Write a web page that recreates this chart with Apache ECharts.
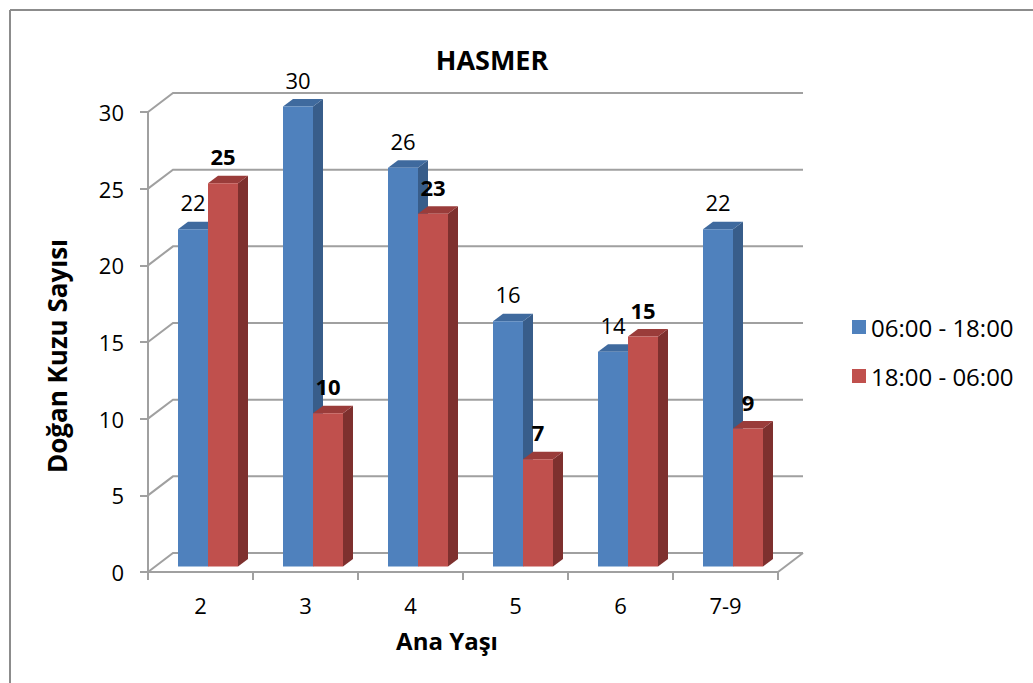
<!DOCTYPE html>
<html>
<head>
<meta charset="utf-8">
<script src="https://cdn.jsdelivr.net/npm/echarts@6/dist/echarts.min.js"></script>
<style>html,body{margin:0;padding:0;background:#fff}#c{width:1033px;height:683px}</style>
</head>
<body>
<div id="c"></div>
<script>
const categories = ['2', '3', '4', '5', '6', '7-9'];
const dayValues = [22, 30, 26, 16, 14, 22];
const nightValues = [25, 10, 23, 7, 15, 9];
const seriesNames = ['06:00 - 18:00', '18:00 - 06:00'];
const yTicks = [0, 5, 10, 15, 20, 25, 30];

const FONT = '"Open Sans", "Noto Sans", sans-serif';
const GRID_COL = '#a0a0a0';
const WALL_DX = 25, WALL_DY = 19;   // back wall depth offset
const BAR_DX = 10, BAR_DY = 7.5;     // bar depth offset
const faces = [
  { front: '#4F81BD', side: '#385D8A', top: '#3F6A9E' },
  { front: '#C0504D', side: '#7E302E', top: '#9A3C3A' }
];

function wallItem(params, api) {
  const cs = params.coordSys;
  const v = api.value(0);
  const y = api.coord([0, v])[1];
  const x0 = cs.x, x1 = cs.x + cs.width;
  const children = [{
    type: 'polyline',
    shape: { points: [[x0, y], [x0 + WALL_DX, y - WALL_DY], [x1 + WALL_DX, y - WALL_DY]] },
    style: { stroke: GRID_COL, lineWidth: 2, fill: null }
  }];
  if (v === 0) {
    children.push({
      type: 'line',
      shape: { x1: x1, y1: y, x2: x1 + WALL_DX, y2: y - WALL_DY },
      style: { stroke: GRID_COL, lineWidth: 2 }
    });
  }
  return { type: 'group', children: children };
}

function barRenderer(sIdx, bold) {
  return function (params, api) {
    const idx = api.value(0), val = api.value(1);
    const base = api.coord([idx, 0]);
    const top = api.coord([idx, val]);
    const band = api.size([1, 0])[0];
    const bw = band * 30 / 105;
    const x = sIdx === 0 ? base[0] - bw : base[0];
    const y1 = top[1], y0 = base[1];
    const f = faces[sIdx];
    return {
      type: 'group',
      children: [
        { type: 'polygon', shape: { points: [[x + bw, y1], [x + bw + BAR_DX, y1 - BAR_DY], [x + bw + BAR_DX, y0 - BAR_DY], [x + bw, y0]] }, style: { fill: f.side } },
        { type: 'polygon', shape: { points: [[x, y1], [x + BAR_DX, y1 - BAR_DY], [x + bw + BAR_DX, y1 - BAR_DY], [x + bw, y1]] }, style: { fill: f.top } },
        { type: 'rect', shape: { x: x, y: y1, width: bw, height: y0 - y1 }, style: { fill: f.front } },
        { type: 'text', x: x + bw / 2, y: y1 - 27, style: { text: String(val), fill: '#000', font: (bold ? 'bold ' : '') + '22px ' + FONT, align: 'center', verticalAlign: 'middle' } }
      ]
    };
  };
}

const chart = echarts.init(document.getElementById('c'), null, { renderer: 'svg' });
chart.setOption({
  animation: false,
  backgroundColor: '#fff',
  color: [faces[0].front, faces[1].front],
  title: {
    text: 'HASMER', left: 487, top: 41, textAlign: 'center',
    textStyle: { fontFamily: FONT, fontWeight: 'bold', fontSize: 27, color: '#000' }
  },
  legend: {
    orient: 'vertical', left: 847, top: 310,
    icon: 'rect', itemWidth: 14, itemHeight: 14, itemGap: 25,
    data: seriesNames,
    textStyle: { fontFamily: FONT, fontSize: 24, color: '#000', lineHeight: 24 }
  },
  graphic: [
    { type: 'line', shape: { x1: 10, y1: 10, x2: 10, y2: 683 }, style: { stroke: '#8c8c8c', lineWidth: 2 } },
    { type: 'line', shape: { x1: 10, y1: 10, x2: 1033, y2: 10 }, style: { stroke: '#8c8c8c', lineWidth: 2 } }
  ],
  grid: [
    { left: 148, right: 255, top: 112, bottom: 111 },
    { left: 155.5, right: 247.5, top: 106.5, bottom: 116.5 }
  ],
  xAxis: [
    {
      gridIndex: 0, type: 'category', data: categories, boundaryGap: true,
      axisLine: { lineStyle: { color: GRID_COL, width: 2 } },
      axisTick: { show: true, length: 8, alignWithLabel: false, lineStyle: { color: GRID_COL, width: 2 } },
      axisLabel: { fontFamily: FONT, fontSize: 22, color: '#000', margin: 22 },
      name: 'Ana Yaşı', nameLocation: 'middle', nameGap: 56,
      nameTextStyle: { fontFamily: FONT, fontWeight: 'bold', fontSize: 24, color: '#000', padding: [0, 32, 0, 0] }
    },
    { gridIndex: 1, type: 'category', data: categories, show: false }
  ],
  yAxis: [
    {
      gridIndex: 0, type: 'value', min: 0, max: 30, interval: 5,
      axisLine: { show: true, lineStyle: { color: GRID_COL, width: 2 } },
      axisTick: { show: true, length: 8, lineStyle: { color: GRID_COL, width: 2 } },
      splitLine: { show: false },
      axisLabel: { fontFamily: FONT, fontSize: 22, color: '#000', margin: 24 },
      name: 'Doğan Kuzu Sayısı', nameLocation: 'middle', nameGap: 78,
      nameTextStyle: { fontFamily: FONT, fontWeight: 'bold', fontSize: 26, color: '#000', padding: [0, 28, 0, 0] }
    },
    { gridIndex: 1, type: 'value', min: 0, max: 30, interval: 5, show: false }
  ],
  series: [
    {
      type: 'custom', name: 'wall', xAxisIndex: 0, yAxisIndex: 0, z: 1,
      data: yTicks.map(v => [v]), renderItem: wallItem, silent: true
    },
    {
      type: 'custom', name: seriesNames[0], xAxisIndex: 1, yAxisIndex: 1, z: 3,
      itemStyle: { color: faces[0].front },
      data: dayValues.map((v, i) => [i, v]), renderItem: barRenderer(0, false)
    },
    {
      type: 'custom', name: seriesNames[1], xAxisIndex: 1, yAxisIndex: 1, z: 4,
      itemStyle: { color: faces[1].front },
      data: nightValues.map((v, i) => [i, v]), renderItem: barRenderer(1, true)
    }
  ]
});
</script>
</body>
</html>
